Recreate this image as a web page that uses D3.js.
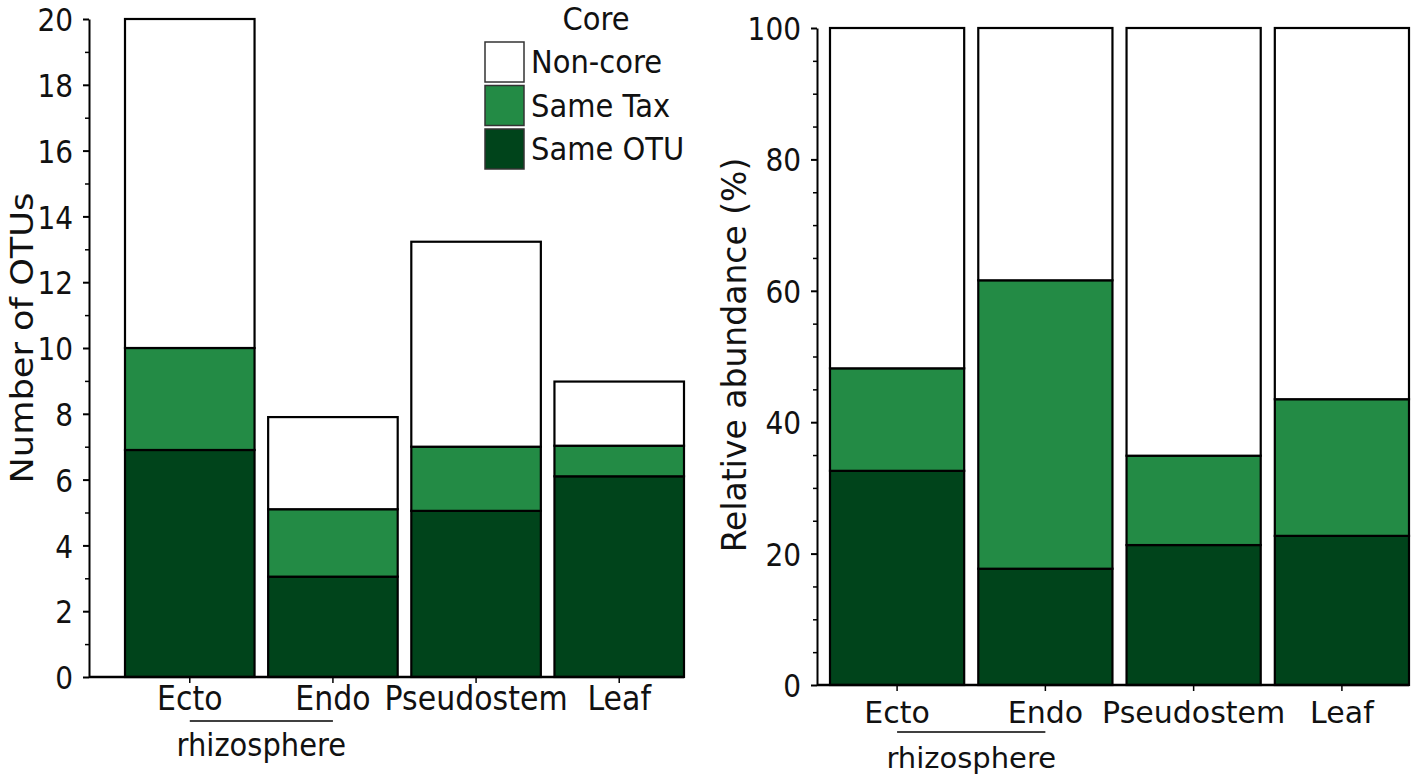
<!DOCTYPE html>
<meta charset="utf-8">
<script src="https://d3js.org/d3.v7.min.js"></script>
<style>
    body { margin: 0; background: #fff; }
    svg text { font-family: "DejaVu Sans", Verdana, sans-serif; fill: #111; }
</style>
<div id="my_dataviz"></div>
<script>

    // categories and series
    const categories = ["Ecto", "Endo", "Pseudostem", "Leaf"];
    const seriesNames = ["Same OTU", "Same Tax", "Non-core"];
    const seriesColors = ["#00441b", "#238b45", "#ffffff"];

    // left panel: number of OTUs
    const countSameOTU = [6.9, 3.05, 5.05, 6.1];
    const countSameTax = [3.1, 2.05, 1.95, 0.93];
    const countNonCore = [10, 2.8, 6.23, 1.95];

    // right panel: relative abundance (%)
    const pctSameOTU = [32.6, 17.7, 21.3, 22.7];
    const pctSameTax = [15.6, 43.9, 13.6, 20.8];
    const pctNonCore = [51.8, 38.4, 65.1, 56.5];

    // tick labels
    const leftTicks = [0, 2, 4, 6, 8, 10, 12, 14, 16, 18, 20];
    const leftMinor = [1, 3, 5, 7, 9, 11, 13, 15, 17, 19];
    const rightTicks = [0, 20, 40, 60, 80, 100];
    const rightMinor = [5, 10, 15, 25, 30, 35, 45, 50, 55, 65, 70, 75, 85, 90, 95];

    const svg = d3.select("#my_dataviz")
        .append("svg")
        .attr("width", 1417)
        .attr("height", 781);

    function buildRows(a, b, c) {
        return categories.map((cat, i) => ({cat: cat, "Same OTU": a[i], "Same Tax": b[i], "Non-core": c[i]}));
    }

    function drawPanel(p) {
        const g = svg.append("g");

        const x = d3.scaleBand()
            .domain(categories)
            .range([p.x0, p.x1])
            .paddingInner(0.095)
            .paddingOuter(0);

        const y = d3.scaleLinear()
            .domain([0, p.max])
            .range([p.y0, p.y1]);

        const stacked = d3.stack().keys(seriesNames)(p.rows);

        // bars
        g.selectAll("g.layer")
            .data(stacked)
            .join("g")
            .attr("class", "layer")
            .attr("fill", (d, i) => seriesColors[i])
            .selectAll("rect")
            .data(d => d)
            .join("rect")
            .attr("x", d => x(d.data.cat))
            .attr("y", d => y(d[1]))
            .attr("width", x.bandwidth())
            .attr("height", d => y(d[0]) - y(d[1]))
            .attr("stroke", "#000")
            .attr("stroke-width", 2.2);

        // minor ticks
        g.append("g")
            .attr("transform", `translate(${p.axisX},0)`)
            .call(d3.axisLeft(y).tickValues(p.minor).tickSize(4).tickFormat(""))
            .call(a => a.select(".domain").remove())
            .selectAll("line").attr("stroke-width", 1.5);

        // y axis
        const ya = g.append("g")
            .attr("transform", `translate(${p.axisX},0)`)
            .call(d3.axisLeft(y).tickValues(p.ticks).tickSize(6).tickSizeOuter(0).tickPadding(10));
        ya.select(".domain").attr("stroke-width", 2);
        ya.selectAll("line").attr("stroke-width", 2);
        ya.selectAll("text")
            .attr("dy", "0.36em")
            .attr("transform", `scale(1,${p.tickScale})`)
            .style("font-size", "28px");

        // x axis
        const xa = g.append("g")
            .attr("transform", `translate(0,${p.y0})`)
            .call(d3.axisBottom(x).tickSize(6).tickSizeOuter(0));
        xa.select(".domain").remove();
        xa.selectAll("line").attr("stroke-width", 1.5);
        xa.selectAll("text")
            .attr("y", 0)
            .attr("dy", null)
            .attr("transform", `translate(0,${p.labelDy}) scale(1,${p.textScale})`)
            .style("font-size", "30px");
        g.append("line")
            .attr("x1", p.axisX).attr("x2", p.x1)
            .attr("y1", p.y0).attr("y2", p.y0)
            .attr("stroke", "#000").attr("stroke-width", 2.5);

        // rhizosphere bracket under Ecto and Endo
        const cx1 = x("Ecto") + x.bandwidth() / 2,
            cx2 = x("Endo") + x.bandwidth() / 2;
        g.append("line")
            .attr("x1", cx1).attr("x2", cx2)
            .attr("y1", p.bracketY).attr("y2", p.bracketY)
            .attr("stroke", "#000").attr("stroke-width", 1.5);
        g.append("text")
            .attr("transform", `translate(${(cx1 + cx2) / 2},${p.rhizoY}) scale(1,${p.textScale})`)
            .attr("text-anchor", "middle")
            .style("font-size", "29px")
            .text("rhizosphere");

        // y title
        g.append("text")
            .attr("transform", `translate(${p.titleX},${p.titleY}) rotate(-90) scale(${p.titleScale},1)`)
            .attr("text-anchor", "middle")
            .style("font-size", p.titleSize + "px")
            .text(p.title);
    }

    drawPanel({
        rows: buildRows(countSameOTU, countSameTax, countNonCore),
        max: 20, ticks: leftTicks, minor: leftMinor,
        x0: 125, x1: 684, y0: 677, y1: 19, axisX: 89,
        labelDy: 33, bracketY: 721, rhizoY: 756,
        textScale: 1.12, tickScale: 1.15,
        title: "Number of OTUs", titleX: 33, titleY: 338, titleSize: 32, titleScale: 1.1
    });

    drawPanel({
        rows: buildRows(pctSameOTU, pctSameTax, pctNonCore),
        max: 100, ticks: rightTicks, minor: rightMinor,
        x0: 830, x1: 1409, y0: 685, y1: 28, axisX: 817,
        labelDy: 38, bracketY: 732, rhizoY: 768,
        textScale: 1.0, tickScale: 1.13,
        title: "Relative abundance (%)", titleX: 746, titleY: 355, titleSize: 33, titleScale: 1.0
    });

    // legend
    const legend = svg.append("g").attr("transform", "translate(485,0)");
    legend.append("text")
        .attr("transform", "translate(111,30) scale(1,1.1)")
        .attr("text-anchor", "middle")
        .style("font-size", "29px")
        .text("Core");

    const legendOrder = seriesNames.slice().reverse();
    const ly = d3.scaleBand().domain(legendOrder).range([42, 169]).paddingInner(0.08);

    legend.selectAll("rect")
        .data(legendOrder)
        .join("rect")
        .attr("x", 0)
        .attr("y", d => ly(d))
        .attr("width", 39)
        .attr("height", ly.bandwidth())
        .attr("fill", d => seriesColors[seriesNames.indexOf(d)])
        .attr("stroke", "#333")
        .attr("stroke-width", 1.5);

    legend.selectAll("text.item")
        .data(legendOrder)
        .join("text")
        .attr("class", "item")
        .attr("transform", d => `translate(46,${ly(d) + ly.bandwidth() / 2 + 11}) scale(1,1.1)`)
        .style("font-size", "29px")
        .text(d => d);

</script>
